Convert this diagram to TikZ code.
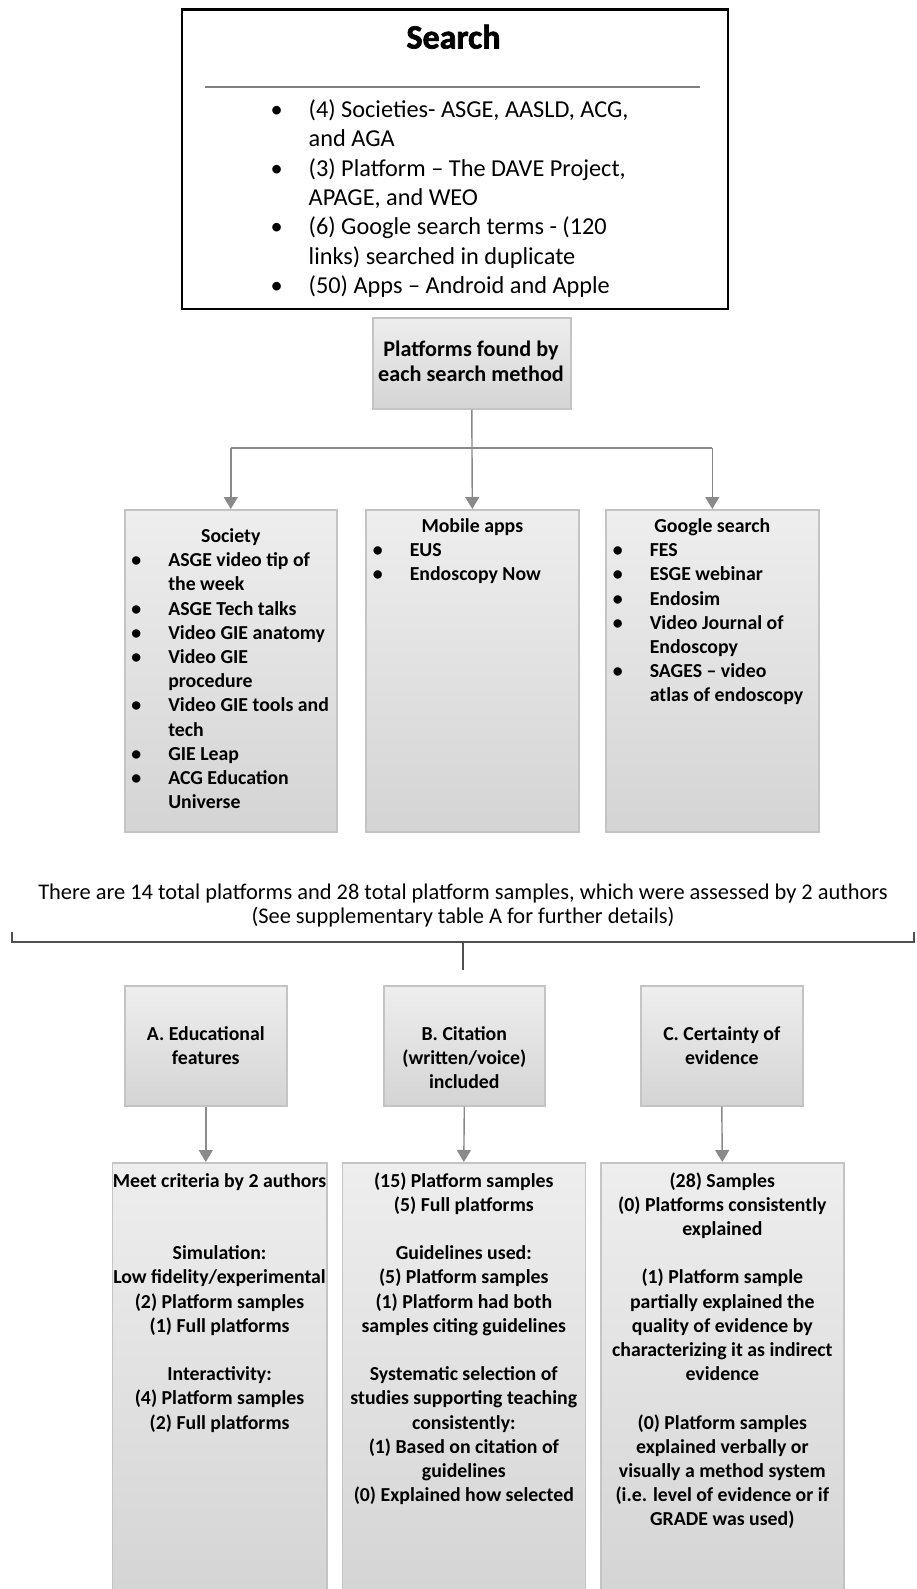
\documentclass[tikz,border=0pt]{standalone}
\usepackage{fontspec}
\setmainfont{Carlito}
\newfontfamily\heavyfont{Carlito}[BoldFeatures={FakeBold=2}]
\usetikzlibrary{positioning, arrows.meta}
\definecolor{boxlight}{RGB}{238,238,238}
\definecolor{boxdark}{RGB}{212,212,212}
\definecolor{boxline}{RGB}{196,196,196}
\definecolor{arrowgray}{RGB}{138,138,138}
\definecolor{bracegray}{RGB}{80,80,80}

\begin{document}
\begin{tikzpicture}[x=1pt, y=-1pt,
  flow/.style={draw=arrowgray, line width=1.4pt, -{Triangle[width=14pt,length=12pt]}},
  box/.style={draw=boxline, line width=1.6pt, top color=boxlight, bottom color=boxdark,
    anchor=north west, inner sep=0pt},
  txt/.style={inner sep=0pt, anchor=base, font=\fontsize{19.8}{24.2}\selectfont\bfseries},
  plain/.style={inner sep=0pt, anchor=base, font=\fontsize{22.4}{24.3}\selectfont}]

  \fill[white] (0,0) rectangle (916,1589);
  \useasboundingbox (0,0) rectangle (916,1589);

  % search box
  \node[draw=black, line width=2.4pt, minimum width=546, minimum height=299,
        anchor=north west, inner sep=0pt] (search) at (180.5,8.5) {};
  \node[inner sep=0pt, anchor=base, font=\fontsize{34}{36}\selectfont\heavyfont\bfseries]
        (searchTitle) at (453.5,48.5) {Search};
  \coordinate (sepL) at (205,87);
  \coordinate (sepR) at (700,87);
  \draw[gray, line width=1.1pt] (sepL) -- (sepR);
  \node[inner sep=0pt, anchor=base west, font=\fontsize{24.3}{29.4}\selectfont]
        (searchList) at (270.5,117.4) {%
    \begin{tabular}[t]{@{}p{38pt}@{}l@{}}
      \textbullet & (4) Societies- ASGE, AASLD, ACG,\\
                  & and AGA\\
      \textbullet & (3) Platform – The DAVE Project,\\
                  & APAGE, and WEO\\
      \textbullet & (6) Google search terms - (120\\
                  & links) searched in duplicate\\
      \textbullet & (50) Apps – Android and Apple
    \end{tabular}};

  % platforms found
  \node[box, minimum width=198, minimum height=91] (plat) at (372,317) {};
  \node[txt, font=\fontsize{22.2}{25.3}\selectfont\bfseries] (platText) at (471,356.5) {%
    \begin{tabular}[t]{@{}c@{}}Platforms found by\\ each search method\end{tabular}};

  % search methods
  \node[box, minimum width=212, minimum height=322] (soc) at (124,509) {};
  \node[box, minimum width=213, minimum height=322] (mob) at (365,509) {};
  \node[box, minimum width=213, minimum height=322] (goo) at (605,509) {};

  \node[txt] (socText) at (soc.north |- 0,542.5) {%
    \begin{tabular}[t]{@{}p{37pt}@{}l@{}}
      \multicolumn{2}{@{}c@{}}{\makebox[199pt]{Society}}\\
      \textbullet & ASGE video tip of\\
                  & the week\\
      \textbullet & ASGE Tech talks\\
      \textbullet & Video GIE anatomy\\
      \textbullet & Video GIE\\
                  & procedure\\
      \textbullet & Video GIE tools and\\
                  & tech\\
      \textbullet & GIE Leap\\
      \textbullet & ACG Education\\
                  & Universe
    \end{tabular}};
  \node[txt] (mobText) at (mob.north |- 0,532.5) {%
    \begin{tabular}[t]{@{}p{37pt}@{}l@{}}
      \multicolumn{2}{@{}c@{}}{\makebox[199pt]{Mobile apps}}\\
      \textbullet & EUS\\
      \textbullet & Endoscopy Now
    \end{tabular}};
  \node[txt] (gooText) at (goo.north |- 0,532.5) {%
    \begin{tabular}[t]{@{}p{37pt}@{}l@{}}
      \multicolumn{2}{@{}c@{}}{\makebox[199pt]{Google search}}\\
      \textbullet & FES\\
      \textbullet & ESGE webinar\\
      \textbullet & Endosim\\
      \textbullet & Video Journal of\\
                  & Endoscopy\\
      \textbullet & SAGES – video\\
                  & atlas of endoscopy
    \end{tabular}};

  % platforms -> methods
  \coordinate (hub) at (471,448);
  \draw[arrowgray, line width=1.4pt] (hub -| soc.north) -- (hub -| goo.north);
  \draw[flow] (plat.south) -- (mob.north);
  \draw[flow] (hub -| soc.north) -- (soc.north);
  \draw[flow] (hub -| goo.north) -- (goo.north);

  % totals and bracket
  \node[plain] (total) at (463,899.5) {%
    \begin{tabular}[t]{@{}c@{}}
      There are 14 total platforms and 28 total platform samples, which were assessed by 2 authors\\
      (See supplementary table A for further details)
    \end{tabular}};
  \coordinate (brL) at (12,942);
  \coordinate (brR) at (914,942);
  \coordinate (brM) at (463,942);
  \coordinate (stemEnd) at (463,970);
  \draw[bracegray, line width=1.3pt] ([yshift=10pt]brL) -- (brL) -- (brR) -- ([yshift=10pt]brR);
  \draw[bracegray, line width=1.3pt] (brM) -- (stemEnd);

  % criteria
  \node[box, minimum width=162, minimum height=120] (edu) at (124,985) {};
  \node[box, minimum width=161, minimum height=120] (cit) at (383,985) {};
  \node[box, minimum width=162, minimum height=120] (cer) at (640,985) {};
  \node[txt] (eduText) at (edu.north |- 0,1040.3) {%
    \begin{tabular}[t]{@{}c@{}}A. Educational\\ features\end{tabular}};
  \node[txt] (citText) at (cit.north |- 0,1040.3) {%
    \begin{tabular}[t]{@{}c@{}}B. Citation\\ (written/voice)\\ included\end{tabular}};
  \node[txt] (cerText) at (cer.north |- 0,1040.3) {%
    \begin{tabular}[t]{@{}c@{}}C. Certainty of\\ evidence\end{tabular}};

  % results
  \node[box, minimum width=214.5, minimum height=440] (meet) at (111.5,1162) {};
  \node[box, minimum width=243, minimum height=440] (citRes) at (341.5,1162) {};
  \node[box, minimum width=243, minimum height=440] (cerRes) at (600,1162) {};

  \node[txt] (meetText) at (meet.north |- 0,1187) {%
    \begin{tabular}[t]{@{}c@{}}
      Meet criteria by 2 authors\\ \\ \\
      Simulation:\\
      Low fidelity/experimental\\
      (2) Platform samples\\
      (1) Full platforms\\ \\
      Interactivity:\\
      (4) Platform samples\\
      (2) Full platforms
    \end{tabular}};
  \node[txt] (citResText) at (citRes.north |- 0,1187) {%
    \begin{tabular}[t]{@{}c@{}}
      (15) Platform samples\\
      (5) Full platforms\\ \\
      Guidelines used:\\
      (5) Platform samples\\
      (1) Platform had both\\
      samples citing guidelines\\ \\
      Systematic selection of\\
      studies supporting teaching\\
      consistently:\\
      (1) Based on citation of\\
      guidelines\\
      (0) Explained how selected
    \end{tabular}};
  \node[txt] (cerResText) at (cerRes.north |- 0,1187) {%
    \begin{tabular}[t]{@{}c@{}}
      (28) Samples\\
      (0) Platforms consistently\\
      explained\\ \\
      (1) Platform sample\\
      partially explained the\\
      quality of evidence by\\
      characterizing it as indirect\\
      evidence\\ \\
      (0) Platform samples\\
      explained verbally or\\
      visually a method system\\
      (i.e. level of evidence or if\\
      GRADE was used)
    \end{tabular}};

  % criteria -> results
  \draw[flow] (edu.south) -- (edu.south |- meet.north);
  \draw[flow] (cit.south) -- (citRes.north);
  \draw[flow] (cer.south) -- (cerRes.north);
\end{tikzpicture}
\end{document}
